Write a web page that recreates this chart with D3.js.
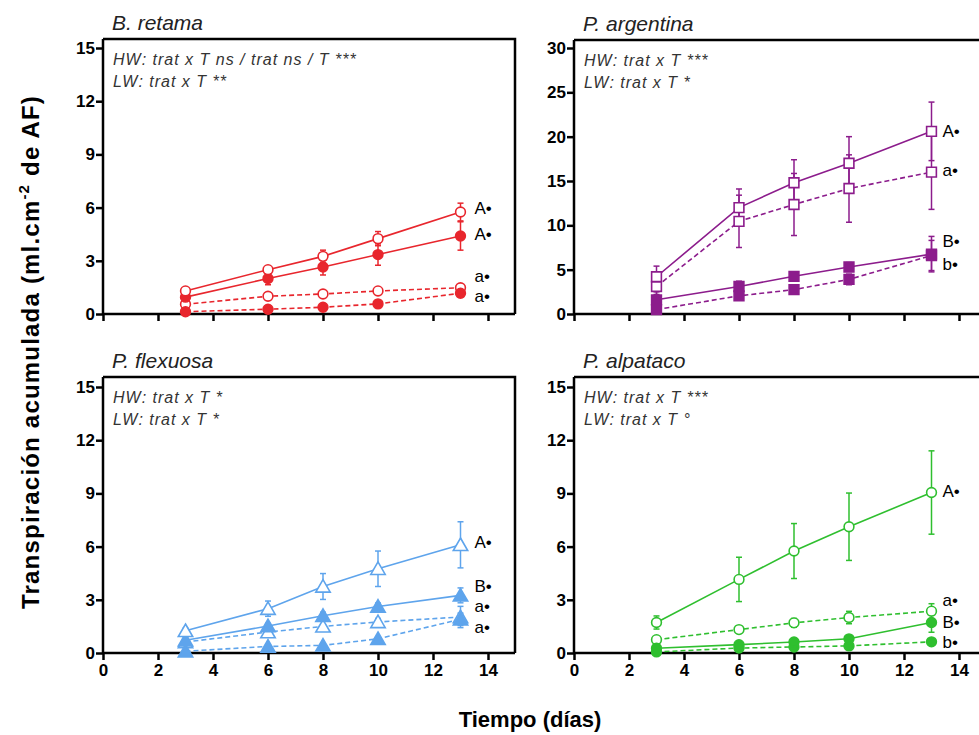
<!DOCTYPE html>
<html>
<head>
<meta charset="utf-8">
<script src="https://cdn.jsdelivr.net/npm/d3@7"></script>
<style>
  body { margin: 0; background: white; }
  svg { display: block; }
</style>
</head>
<body>
<div id="chart"></div>
<script>
let days = [3, 6, 8, 10, 13];

// B. retama
let retamaHwCtrl = [1.3, 2.5, 3.25, 4.25, 5.75];
let retamaHwCtrlErr = [0.15, 0.2, 0.35, 0.4, 0.5];
let retamaHwTrat = [0.95, 2.0, 2.65, 3.35, 4.4];
let retamaHwTratErr = [0.1, 0.35, 0.45, 0.6, 0.8];
let retamaLwCtrl = [0.55, 1.0, 1.13, 1.3, 1.48];
let retamaLwCtrlErr = [0.1, 0.1, 0.1, 0.12, 0.15];
let retamaLwTrat = [0.13, 0.27, 0.38, 0.57, 1.17];
let retamaLwTratErr = [0.05, 0.05, 0.06, 0.1, 0.2];

// P. argentina
let argentinaHwCtrl = [4.2, 12.0, 14.8, 17.0, 20.6];
let argentinaHwCtrlErr = [1.2, 2.1, 2.6, 3.0, 3.3];
let argentinaHwTrat = [1.6, 3.1, 4.25, 5.3, 6.75];
let argentinaHwTratErr = [0.9, 0.6, 0.4, 0.5, 2.0];
let argentinaLwCtrl = [3.1, 10.45, 12.35, 14.15, 16.0];
let argentinaLwCtrlErr = [0.9, 2.95, 3.5, 3.8, 4.2];
let argentinaLwTrat = [0.5, 2.05, 2.75, 3.9, 6.6];
let argentinaLwTratErr = [0.3, 0.4, 0.4, 0.6, 1.7];

// P. flexuosa
let flexuosaHwCtrl = [1.25, 2.5, 3.75, 4.75, 6.1];
let flexuosaHwCtrlErr = [0.15, 0.43, 0.73, 1.0, 1.3];
let flexuosaHwTrat = [0.72, 1.52, 2.1, 2.62, 3.25];
let flexuosaHwTratErr = [0.1, 0.15, 0.2, 0.2, 0.42];
let flexuosaLwCtrl = [0.62, 1.18, 1.5, 1.75, 2.03];
let flexuosaLwCtrlErr = [0.1, 0.15, 0.15, 0.2, 0.6];
let flexuosaLwTrat = [0.1, 0.37, 0.43, 0.8, 1.9];
let flexuosaLwTratErr = [0.05, 0.05, 0.06, 0.1, 0.35];

// P. alpataco
let alpatacoHwCtrl = [1.72, 4.15, 5.75, 7.12, 9.05];
let alpatacoHwCtrlErr = [0.37, 1.25, 1.55, 1.9, 2.35];
let alpatacoHwTrat = [0.27, 0.47, 0.62, 0.8, 1.72];
let alpatacoHwTratErr = [0.05, 0.08, 0.1, 0.12, 0.55];
let alpatacoLwCtrl = [0.75, 1.32, 1.7, 2.0, 2.36];
let alpatacoLwCtrlErr = [0.1, 0.12, 0.25, 0.35, 0.42];
let alpatacoLwTrat = [0.06, 0.28, 0.34, 0.4, 0.63];
let alpatacoLwTratErr = [0.03, 0.05, 0.05, 0.06, 0.08];

let xTicks = [0, 2, 4, 6, 8, 10, 12, 14];
let yTicks15 = [0, 3, 6, 9, 12, 15];
let yTicks30 = [0, 5, 10, 15, 20, 25, 30];

let retamaLetters = ['A•', 'A•', 'a•', 'a•'];
let retamaLetterY = [5.97, 4.5, 2.15, 1.02];
let argentinaLetters = ['A•', 'a•', 'B•', 'b•'];
let argentinaLetterY = [20.6, 16.3, 8.2, 5.67];
let flexuosaLetters = ['A•', 'B•', 'a•', 'a•'];
let flexuosaLetterY = [6.24, 3.8, 2.68, 1.5];
let alpatacoLetters = ['A•', 'a•', 'B•', 'b•'];
let alpatacoLetterY = [9.14, 3.0, 1.78, 0.62];

let retamaStats = ['HW: trat x T ns / trat ns / T ***', 'LW: trat x T **'];
let argentinaStats = ['HW: trat x T ***', 'LW: trat x T *'];
let flexuosaStats = ['HW: trat x T *', 'LW: trat x T *'];
let alpatacoStats = ['HW: trat x T ***', 'LW: trat x T °'];

let narrow = "'Liberation Sans Narrow', 'Arial Narrow', 'Liberation Sans', Arial, sans-serif";
let sans = "'Liberation Sans', Arial, sans-serif";

let svg = d3.select('#chart').append('svg')
  .attr('width', 979)
  .attr('height', 735);

function drawPanel(p){
  let x = d3.scaleLinear().domain([0, 14]).range([p.left, p.left + 385]);
  let y = d3.scaleLinear().domain([0, p.ymax]).range([p.bottom, p.bottom - 266]);
  let g = svg.append('g');

  //frame top and right
  g.append('path')
    .attr('d', 'M' + p.left + ',' + p.top + 'H' + p.right + 'V' + p.bottom)
    .attr('fill', 'none')
    .attr('stroke', 'black')
    .attr('stroke-width', 2.5);

  let xAxis = g.append('g')
    .attr('transform', 'translate(0,' + p.bottom + ')')
    .call(d3.axisBottom(x).tickValues(xTicks).tickSize(7).tickPadding(4)
      .tickFormat(p.xLabels ? d3.format('d') : ''));
  let yAxis = g.append('g')
    .attr('transform', 'translate(' + p.left + ',0)')
    .call(d3.axisLeft(y).tickValues(p.yTicks).tickSize(7).tickPadding(1));
  [xAxis, yAxis].forEach(function(a){
    a.select('.domain').remove();
    a.selectAll('.tick line').attr('stroke-width', 2.5);
    a.selectAll('text')
      .attr('font-family', sans)
      .attr('font-weight', 'bold')
      .attr('font-size', '17px')
      .attr('fill', 'black');
  });
  g.append('line')
    .attr('x1', p.left).attr('x2', p.right)
    .attr('y1', p.bottom).attr('y2', p.bottom)
    .attr('stroke', 'black').attr('stroke-width', 2.5);
  g.append('line')
    .attr('x1', p.left).attr('x2', p.left)
    .attr('y1', p.top).attr('y2', p.bottom)
    .attr('stroke', 'black').attr('stroke-width', 2.5);

  g.append('text')
    .attr('x', p.left + 9)
    .attr('y', p.top - 9)
    .attr('font-family', sans)
    .attr('font-style', 'italic')
    .attr('font-size', '21px')
    .attr('fill', '#222')
    .text(p.title);

  p.stats.forEach(function(s, i){
    g.append('text')
      .attr('x', p.left + 10)
      .attr('y', p.top + 26 + i * 22)
      .attr('font-family', sans)
      .attr('font-style', 'italic')
      .attr('font-size', '16px')
      .attr('letter-spacing', '1px')
      .attr('fill', '#333')
      .text(s);
  });

  let line = d3.line().x(function(d){ return x(d[0]); }).y(function(d){ return y(d[1]); });

  p.series.forEach(function(s){
    let pts = days.map(function(d, i){ return [d, s.values[i], s.err[i]]; });
    g.append('path')
      .datum(pts)
      .attr('d', line)
      .attr('fill', 'none')
      .attr('stroke', p.color)
      .attr('stroke-width', 1.6)
      .attr('stroke-dasharray', s.dashed ? '5,3' : null);
    let eb = g.append('g').selectAll('g').data(pts).enter().append('g')
      .attr('stroke', p.color)
      .attr('stroke-width', 1.5);
    eb.append('line')
      .attr('x1', function(d){ return x(d[0]); })
      .attr('x2', function(d){ return x(d[0]); })
      .attr('y1', function(d){ return y(d[1] - d[2]); })
      .attr('y2', function(d){ return y(d[1] + d[2]); });
    eb.append('line')
      .attr('x1', function(d){ return x(d[0]) - 3; })
      .attr('x2', function(d){ return x(d[0]) + 3; })
      .attr('y1', function(d){ return y(d[1] + d[2]); })
      .attr('y2', function(d){ return y(d[1] + d[2]); });
    eb.append('line')
      .attr('x1', function(d){ return x(d[0]) - 3; })
      .attr('x2', function(d){ return x(d[0]) + 3; })
      .attr('y1', function(d){ return y(d[1] - d[2]); })
      .attr('y2', function(d){ return y(d[1] - d[2]); });
    s.pts = pts;
  });

  let symSize = p.symbol === d3.symbolTriangle ? 90 : (p.symbol === d3.symbolSquare ? 95 : 75);
  p.series.forEach(function(s){
    let sym = d3.symbol().type(p.symbol).size(symSize);
    g.append('g').selectAll('path').data(s.pts).enter().append('path')
      .attr('d', sym)
      .attr('transform', function(d){
        let dy = p.symbol === d3.symbolTriangle ? 1.5 : 0;
        return 'translate(' + x(d[0]) + ',' + (y(d[1]) + dy) + ')';
      })
      .attr('fill', s.open ? 'white' : p.color)
      .attr('stroke', p.color)
      .attr('stroke-width', 1.6);
  });

  p.letters.forEach(function(l, i){
    g.append('text')
      .attr('x', x(13) + p.letterDx)
      .attr('y', y(p.letterY[i]))
      .attr('dy', '0.36em')
      .attr('font-family', sans)
      .attr('font-size', '17px')
      .attr('fill', 'black')
      .text(l);
  });
}

drawPanel({
  title: 'B. retama', left: 103, right: 515, top: 39, bottom: 314, ymax: 15, yTicks: yTicks15,
  xLabels: false, color: '#e8262d', symbol: d3.symbolCircle, stats: retamaStats,
  letters: retamaLetters, letterY: retamaLetterY, letterDx: 14,
  series: [
    {values: retamaLwCtrl, err: retamaLwCtrlErr, open: true, dashed: true},
    {values: retamaLwTrat, err: retamaLwTratErr, open: false, dashed: true},
    {values: retamaHwTrat, err: retamaHwTratErr, open: false, dashed: false},
    {values: retamaHwCtrl, err: retamaHwCtrlErr, open: true, dashed: false}
  ]
});
drawPanel({
  title: 'P. argentina', left: 574, right: 995, top: 40, bottom: 314, ymax: 30, yTicks: yTicks30,
  xLabels: false, color: '#8c1c8c', symbol: d3.symbolSquare, stats: argentinaStats,
  letters: argentinaLetters, letterY: argentinaLetterY, letterDx: 11,
  series: [
    {values: argentinaLwCtrl, err: argentinaLwCtrlErr, open: true, dashed: true},
    {values: argentinaLwTrat, err: argentinaLwTratErr, open: false, dashed: true},
    {values: argentinaHwTrat, err: argentinaHwTratErr, open: false, dashed: false},
    {values: argentinaHwCtrl, err: argentinaHwCtrlErr, open: true, dashed: false}
  ]
});
drawPanel({
  title: 'P. flexuosa', left: 103, right: 515, top: 377, bottom: 653, ymax: 15, yTicks: yTicks15,
  xLabels: true, color: '#5ea4ec', symbol: d3.symbolTriangle, stats: flexuosaStats,
  letters: flexuosaLetters, letterY: flexuosaLetterY, letterDx: 14,
  series: [
    {values: flexuosaLwCtrl, err: flexuosaLwCtrlErr, open: true, dashed: true},
    {values: flexuosaLwTrat, err: flexuosaLwTratErr, open: false, dashed: true},
    {values: flexuosaHwTrat, err: flexuosaHwTratErr, open: false, dashed: false},
    {values: flexuosaHwCtrl, err: flexuosaHwCtrlErr, open: true, dashed: false}
  ]
});
drawPanel({
  title: 'P. alpataco', left: 574, right: 995, top: 377, bottom: 653, ymax: 15, yTicks: yTicks15,
  xLabels: true, color: '#2fbf2f', symbol: d3.symbolCircle, stats: alpatacoStats,
  letters: alpatacoLetters, letterY: alpatacoLetterY, letterDx: 11,
  series: [
    {values: alpatacoLwCtrl, err: alpatacoLwCtrlErr, open: true, dashed: true},
    {values: alpatacoLwTrat, err: alpatacoLwTratErr, open: false, dashed: true},
    {values: alpatacoHwTrat, err: alpatacoHwTratErr, open: false, dashed: false},
    {values: alpatacoHwCtrl, err: alpatacoHwCtrlErr, open: true, dashed: false}
  ]
});

svg.append('text')
  .attr('x', 530)
  .attr('y', 727)
  .attr('text-anchor', 'middle')
  .attr('font-family', narrow)
  .attr('font-weight', 'bold')
  .attr('font-size', '22px')
  .attr('fill', 'black')
  .text('Tiempo (días)');

let yTitle = svg.append('text')
  .attr('transform', 'translate(39,352) rotate(-90)')
  .attr('text-anchor', 'middle')
  .attr('font-family', sans)
  .attr('font-weight', 'bold')
  .attr('font-size', '24px')
  .attr('letter-spacing', '1.2px')
  .attr('fill', 'black');
yTitle.append('tspan').text('Transpiración acumulada (ml.cm');
yTitle.append('tspan').attr('dy', -10).attr('font-size', '15px').text('-2');
yTitle.append('tspan').attr('dy', 10).text(' de AF)');
</script>
</body>
</html>
